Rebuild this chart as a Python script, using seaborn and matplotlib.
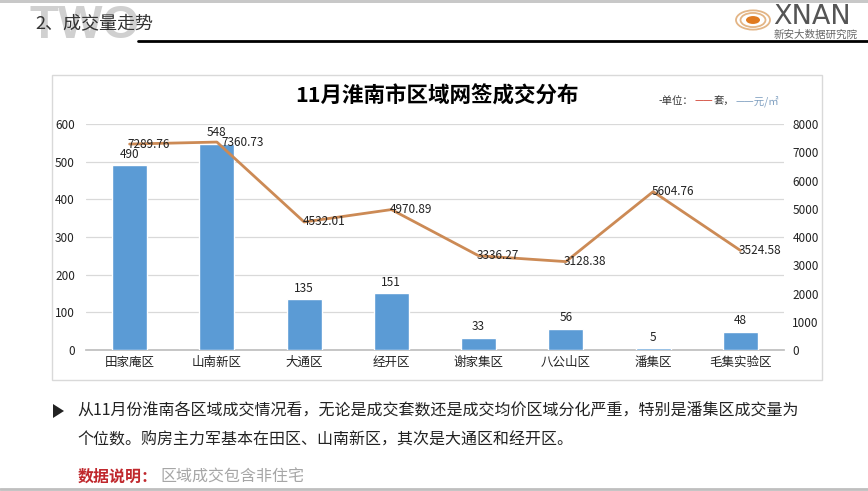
import matplotlib
matplotlib.use("Agg")
import matplotlib.pyplot as plt
import seaborn as sns
import numpy as np
import pandas as pd
from matplotlib.patches import Rectangle, Circle, Polygon
from matplotlib.lines import Line2D

# ---- data ----
districts = ["田家庵区", "山南新区", "大通区", "经开区", "谢家集区", "八公山区", "潘集区", "毛集实验区"]
units_sold = [490, 548, 135, 151, 33, 56, 5, 48]
avg_price = [7289.76, 7360.73, 4532.01, 4970.89, 3336.27, 3128.38, 5604.76, 3524.58]
left_ticks = [0, 100, 200, 300, 400, 500, 600]
right_ticks = [0, 1000, 2000, 3000, 4000, 5000, 6000, 7000, 8000]

title = "11月淮南市区域网签成交分布"
header = "2、成交量走势"
para1 = "从11月份淮南各区域成交情况看，无论是成交套数还是成交均价区域分化严重，特别是潘集区成交量为"
para2 = "个位数。购房主力军基本在田区、山南新区，其次是大通区和经开区。"
note_label = "数据说明："
note_text = "区域成交包含非住宅"

sns.set_theme(style="white")
plt.rcParams['font.family'] = ['Noto Sans CJK SC', 'DejaVu Sans']

W, H = 868, 491
fig = plt.figure(figsize=(W / 100, H / 100), dpi=100)
fig.patch.set_facecolor("white")

def fx(x):
    return x / W

def fy(y):
    return 1 - y / H

BAR = "#5B9BD5"
LINE = "#CC8A55"
GRID = "#D9D9D9"

# ---- header decorations ----
fig.add_artist(Rectangle((0, fy(3)), 1, 3 / H, transform=fig.transFigure,
                         facecolor="#C8C8C8", edgecolor="none"))
fig.text(fx(29), fy(26), "TWO", fontsize=34, fontweight="bold", color="#D0D0D0",
         ha="left", va="center", family="Liberation Sans", zorder=1)
fig.text(fx(35), fy(24), header, fontsize=13, color="#333333",
         ha="left", va="center", zorder=2)
fig.add_artist(Line2D([fx(138), fx(868)], [fy(41), fy(41)], transform=fig.transFigure,
                      color="black", lw=2))
# logo
for r in (17, 12.5):
    fig.add_artist(Circle((fx(753), fy(20)), r / W, transform=fig.transFigure,
                          facecolor="none", edgecolor="#E3B586", lw=1.3))
fig.add_artist(Circle((fx(753), fy(20)), 7 / W, transform=fig.transFigure,
                      facecolor="#E07A20", edgecolor="none"))
fig.text(fx(773), fy(30), "XNAN", fontsize=19.5, color="#555555", ha="left", va="bottom",
         family="DejaVu Sans")
fig.text(fx(774), fy(30), "新安大数据研究院", fontsize=7.6, color="#666666",
         ha="left", va="top")

# ---- chart frame ----
fig.add_artist(Rectangle((fx(52), fy(380)), (822 - 52) / W, (380 - 75) / H,
                         transform=fig.transFigure, facecolor="white",
                         edgecolor="#D9D9D9", lw=1, zorder=0))

ax = fig.add_axes([fx(86), fy(350), (784 - 86) / W, (350 - 124) / H])
ax.set_facecolor("none")
df = pd.DataFrame({"district": districts, "units": units_sold, "price": avg_price})
sns.barplot(data=df, x="district", y="units", color=BAR, width=0.4, ax=ax,
            saturation=1, zorder=3)
ax.set_ylim(0, 600)
ax.set_xlim(-0.5, len(districts) - 0.5)
ax.set_yticks(left_ticks)
ax.set_yticklabels([str(t) for t in left_ticks], fontsize=8.5, color="#222222")
ax.yaxis.grid(True, color=GRID, lw=0.9)
ax.set_axisbelow(True)
ax.set_xlabel("")
ax.set_ylabel("")
for s in ["top", "right", "left"]:
    ax.spines[s].set_visible(False)
ax.spines["bottom"].set_color("#BFBFBF")
ax.tick_params(axis="y", length=0, pad=8)
ax.tick_params(axis="x", length=0, pad=4, labelsize=9, labelcolor="#222222")
ax.set_xticks(np.arange(-0.5, len(districts)), minor=True)
ax.tick_params(axis="x", which="minor", length=4, color="#BFBFBF")
for i, v in enumerate(units_sold):
    ax.text(i, v + 12, str(v), ha="center", va="bottom", fontsize=8.5, color="#222222")

ax2 = ax.twinx()
sns.lineplot(x=np.arange(len(districts)), y=avg_price, ax=ax2, color=LINE, lw=2, zorder=4)
ax2.set_ylim(0, 8000)
ax2.set_yticks(right_ticks)
ax2.set_yticklabels([str(t) for t in right_ticks], fontsize=8.5, color="#222222")
ax2.tick_params(axis="y", length=0, pad=6)
for s in ["top", "right", "left", "bottom"]:
    ax2.spines[s].set_visible(False)
ax2.set_ylabel("")
for i, v in enumerate(avg_price):
    dx = 0.05 if i == 1 else -0.02
    ax2.text(i + dx, v, f"{v:.2f}", ha="left", va="center", fontsize=8.5, color="#222222",
             zorder=5)

# title & legend
fig.text(fx(437), fy(96), title, fontsize=15.5, fontweight="bold", color="black",
         ha="center", va="center")
fs = 7.5
fig.text(fx(659), fy(101), "-单位：", fontsize=fs, color="#333333", ha="left", va="center")
fig.text(fx(695), fy(101), "——", fontsize=fs, color="#D04030", ha="left", va="center")
fig.text(fx(714), fy(101), "套，", fontsize=fs, color="#333333", ha="left", va="center")
fig.text(fx(736), fy(101), "——元/㎡", fontsize=fs, color="#7F9FC0", ha="left", va="center")

# ---- bottom text ----
fig.add_artist(Polygon([[fx(53), fy(404)], [fx(53), fy(418)], [fx(64), fy(411)]],
                       closed=True, transform=fig.transFigure, facecolor="#222222",
                       edgecolor="none"))
fig.text(fx(77), fy(411), para1, fontsize=11.5, color="#222222", ha="left", va="center")
fig.text(fx(77), fy(440), para2, fontsize=11.5, color="#222222", ha="left", va="center")
fig.text(fx(78), fy(477), note_label, fontsize=11.5, color="#C0282D", fontweight="bold",
         ha="left", va="center")
fig.text(fx(160), fy(477), note_text, fontsize=11.5, color="#A6A6A6", ha="left", va="center")
fig.add_artist(Line2D([0, 1], [fy(489), fy(489)], transform=fig.transFigure,
                      color="#BFBFBF", lw=2))

fig.savefig("out.png", dpi=100, facecolor="white")
